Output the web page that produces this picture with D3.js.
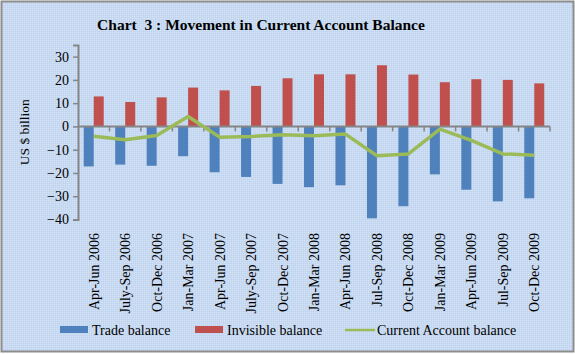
<!DOCTYPE html>
<html>
<head>
<meta charset="utf-8">
<script src="https://d3js.org/d3.v7.min.js"></script>
<style>
  body { margin: 0; background: #fff; }
  svg text { font-family: "Times New Roman", "Liberation Serif", Tinos, serif !important; fill: #000; }
</style>
</head>
<body>
<div id="viz"></div>
<script>
// quarters on the x axis
const quarters = ["Apr-Jun 2006", "July-Sep 2006", "Oct-Dec 2006", "Jan-Mar 2007",
  "Apr-Jun 2007", "July-Sep 2007", "Oct-Dec 2007", "Jan-Mar 2008", "Apr-Jun 2008",
  "Jul-Sep 2008", "Oct-Dec 2008", "Jan-Mar 2009", "Apr-Jun 2009", "Jul-Sep 2009", "Oct-Dec 2009"];

// US $ billion
const tradeBalance = [-17.2, -16.4, -16.9, -12.8, -19.7, -21.7, -24.7, -26.1, -25.3, -39.5, -34.3, -20.6, -27.2, -32.2, -30.9];
const invisibleBalance = [12.9, 10.5, 12.5, 16.7, 15.5, 17.4, 20.7, 22.4, 22.4, 26.3, 22.3, 19.0, 20.3, 20.0, 18.5];
const currentAccount = [-4.2, -5.7, -3.9, 4.3, -4.6, -4.3, -3.6, -4.0, -3.3, -12.6, -11.8, -1.2, -6.0, -11.8, -12.4];

const yTicks = [-40, -30, -20, -10, 0, 10, 20, 30];

const W = 575, H = 354;
const svg = d3.select("#viz").append("svg")
  .attr("width", W).attr("height", H);

// dotted light blue background, like the picture
const defs = svg.append("defs");
const pat = defs.append("pattern").attr("id", "dots")
  .attr("width", 2).attr("height", 2).attr("patternUnits", "userSpaceOnUse");
pat.append("rect").attr("width", 2).attr("height", 2).attr("fill", "#c8daf2");
pat.append("rect").attr("width", 1).attr("height", 1).attr("fill", "#d3e1f5");
pat.append("rect").attr("x", 1).attr("y", 1).attr("width", 1).attr("height", 1).attr("fill", "#bfd3ee");

svg.append("rect")
  .attr("x", 1.5).attr("y", 1.5).attr("width", W - 3).attr("height", H - 4)
  .attr("fill", "url(#dots)")
  .attr("stroke", "#8c8c8c").attr("stroke-width", 2);

svg.append("text")
  .attr("x", 261).attr("y", 30)
  .attr("text-anchor", "middle")
  .style("font-size", "15.5px").style("font-weight", "bold")
  .style("white-space", "pre")
  .text("Chart  3 : Movement in Current Account Balance");

const plotLeft = 78, plotRight = 550, plotTop = 45, plotBottom = 219.5;

const x = d3.scaleBand().domain(quarters).range([plotLeft, plotRight]);
const y = d3.scaleLinear().domain([-40, 35]).range([plotBottom, plotTop]);

const bw = 10;

// y axis
const yAxis = svg.append("g")
  .attr("transform", `translate(${plotLeft},0)`)
  .call(d3.axisLeft(y).tickValues(yTicks).tickSize(5).tickPadding(4));
yAxis.select(".domain").attr("stroke", "#868686").attr("stroke-width", 2);
yAxis.selectAll(".tick line").attr("stroke", "#868686").attr("stroke-width", 1.5);
yAxis.selectAll(".tick text")
  .style("font-size", "14px")
  .attr("fill", "#000");

svg.append("text")
  .attr("transform", `translate(29,${y(-2.5)}) rotate(-90)`)
  .attr("text-anchor", "middle")
  .style("font-size", "13.5px")
  .text("US $ billion");

// bars
svg.append("g").selectAll("rect")
  .data(tradeBalance)
  .join("rect")
  .attr("x", (d, i) => x(quarters[i]) + x.bandwidth() / 2 - bw)
  .attr("y", d => y(Math.max(0, d)))
  .attr("width", bw)
  .attr("height", d => Math.abs(y(d) - y(0)))
  .attr("fill", "#4f81bd");

svg.append("g").selectAll("rect")
  .data(invisibleBalance)
  .join("rect")
  .attr("x", (d, i) => x(quarters[i]) + x.bandwidth() / 2)
  .attr("y", d => y(Math.max(0, d)))
  .attr("width", bw)
  .attr("height", d => Math.abs(y(d) - y(0)))
  .attr("fill", "#c0504d");

// zero line with category ticks
svg.append("line")
  .attr("x1", plotLeft).attr("x2", plotRight)
  .attr("y1", y(0)).attr("y2", y(0))
  .attr("stroke", "#868686").attr("stroke-width", 2);
svg.append("g").selectAll("line")
  .data(quarters)
  .join("line")
  .attr("x1", d => x(d) + x.bandwidth()).attr("x2", d => x(d) + x.bandwidth())
  .attr("y1", y(0)).attr("y2", y(0) + 5)
  .attr("stroke", "#868686").attr("stroke-width", 1.5);

// current account line
const line = d3.line()
  .x((d, i) => x(quarters[i]) + x.bandwidth() / 2)
  .y(d => y(d));
svg.append("path")
  .datum(currentAccount)
  .attr("d", line)
  .attr("fill", "none")
  .attr("stroke", "#9bbb59")
  .attr("stroke-width", 3.5)
  .attr("stroke-linejoin", "round");

// rotated category labels
svg.append("g").selectAll("text")
  .data(quarters)
  .join("text")
  .attr("transform", d => `translate(${x(d) + x.bandwidth() / 2 + 5},233) rotate(-90)`)
  .attr("text-anchor", "end")
  .style("font-size", "14px")
  .text(d => d);

// legend
const legend = [
  {name: "Trade balance", color: "#4f81bd", type: "rect", x: 60},
  {name: "Invisible balance", color: "#c0504d", type: "rect", x: 195},
  {name: "Current Account balance", color: "#9bbb59", type: "line", x: 345}
];
const lg = svg.append("g").selectAll("g").data(legend).join("g")
  .attr("transform", d => `translate(${d.x},330)`);
lg.filter(d => d.type === "rect").append("rect")
  .attr("x", 0).attr("y", -4).attr("width", 28).attr("height", 7)
  .attr("fill", d => d.color);
lg.filter(d => d.type === "line").append("line")
  .attr("x1", 0).attr("x2", 30).attr("y1", 0).attr("y2", 0)
  .attr("stroke", d => d.color).attr("stroke-width", 2.5);
lg.append("text")
  .attr("x", 32)
  .attr("y", 5)
  .style("font-size", "14px")
  .text(d => d.name);
</script>
</body>
</html>
